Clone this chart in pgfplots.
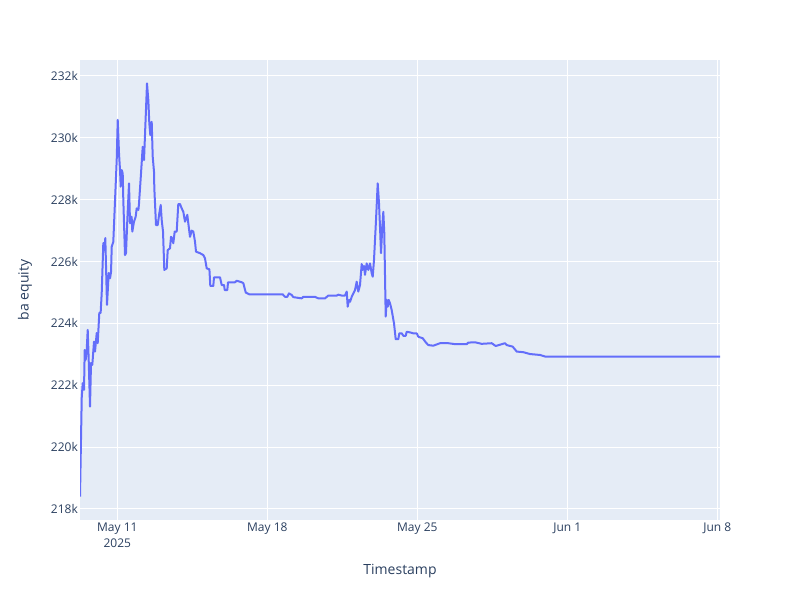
\documentclass[border=0pt]{standalone}
\usepackage{pgfplots}
\pgfplotsset{compat=1.18}
\usepackage{fontspec}
\setmainfont{Open Sans}
\definecolor{plotbg}{HTML}{E5ECF6}
\definecolor{trace}{HTML}{636EFA}
\definecolor{fontc}{HTML}{2A3F5F}

% x: days after 11 May 2025, y: equity in thousands
\pgfplotstableread{
d v
-1.741 218.40
-1.660 221.60
-1.615 222.07
-1.554 221.85
-1.521 223.14
-1.475 222.82
-1.428 223.14
-1.381 223.79
-1.335 222.82
-1.274 221.31
-1.227 222.72
-1.167 222.66
-1.087 223.41
-1.040 223.09
-0.961 223.69
-0.915 223.36
-0.840 224.34
-0.778 224.34
-0.728 224.98
-0.653 226.60
-0.607 226.37
-0.560 226.76
-0.481 224.60
-0.401 225.63
-0.339 225.46
-0.292 225.67
-0.261 226.48
-0.187 226.64
-0.093 228.20
-0.028 229.28
0.019 230.58
0.079 229.50
0.126 228.96
0.159 228.42
0.205 228.96
0.252 228.85
0.280 227.99
0.359 226.21
0.405 226.27
0.467 227.34
0.546 228.53
0.593 227.24
0.669 227.45
0.700 226.97
0.779 227.29
0.857 227.45
0.905 227.72
0.984 227.67
1.013 227.88
1.106 228.85
1.185 229.71
1.246 229.28
1.307 230.36
1.386 231.76
1.447 231.22
1.494 230.47
1.540 230.09
1.605 230.52
1.652 229.39
1.713 228.90
1.727 228.37
1.806 227.18
1.884 227.18
1.960 227.56
2.025 227.83
2.072 227.34
2.133 226.97
2.193 225.73
2.305 225.78
2.352 226.37
2.459 226.43
2.506 226.80
2.568 226.75
2.613 226.59
2.678 226.97
2.771 226.97
2.846 227.86
2.925 227.86
3.005 227.72
3.080 227.61
3.159 227.29
3.266 227.51
3.313 227.24
3.392 226.80
3.472 227.00
3.547 226.97
3.626 226.64
3.672 226.32
3.859 226.27
4.013 226.21
4.092 226.10
4.172 225.78
4.297 225.75
4.340 225.21
4.478 225.21
4.512 225.49
4.792 225.49
4.872 225.24
4.981 225.24
5.012 225.08
5.133 225.08
5.166 225.33
5.492 225.33
5.572 225.38
5.805 225.33
5.883 225.30
5.992 225.00
6.160 224.94
7.718 224.94
7.825 224.86
7.933 224.86
8.012 224.97
8.138 224.92
8.213 224.85
8.605 224.81
8.679 224.86
9.225 224.86
9.379 224.81
9.692 224.81
9.846 224.90
10.238 224.90
10.310 224.93
10.471 224.90
10.625 224.90
10.705 225.03
10.751 224.54
10.812 224.76
10.859 224.70
10.938 224.86
11.012 224.97
11.092 225.08
11.171 225.35
11.245 225.03
11.325 225.24
11.404 225.92
11.451 225.73
11.512 225.86
11.558 225.57
11.637 225.94
11.713 225.73
11.792 225.94
11.871 225.62
11.918 225.51
11.978 226.05
12.072 227.34
12.151 228.53
12.212 227.88
12.258 227.13
12.305 226.27
12.366 227.13
12.413 227.61
12.459 226.91
12.524 224.22
12.571 224.76
12.618 224.54
12.664 224.76
12.725 224.65
12.804 224.43
12.912 224.00
12.991 223.49
13.112 223.49
13.159 223.68
13.271 223.68
13.346 223.60
13.458 223.60
13.504 223.73
13.658 223.71
13.812 223.68
13.971 223.68
14.046 223.57
14.251 223.52
14.405 223.38
14.512 223.30
14.746 223.28
15.058 223.36
15.446 223.36
15.758 223.33
16.304 223.33
16.379 223.38
16.692 223.39
17.004 223.34
17.471 223.36
17.657 223.27
18.091 223.36
18.170 223.30
18.450 223.25
18.637 223.09
18.946 223.07
19.258 223.01
19.725 222.98
19.958 222.93
28.124 222.93
}\equity

\begin{document}
\begin{tikzpicture}
\path[use as bounding box] (0pt,0pt) rectangle (800pt,600pt);
\begin{axis}[
  at={(80pt,80pt)}, anchor=south west,
  scale only axis, width=640pt, height=460pt,
  xmin=-1.741, xmax=28.124,
  ymin=217.644, ymax=232.517,
  axis background/.style={fill=plotbg},
  axis line style={draw=none},
  major tick length=0pt,
  grid=major,
  major grid style={white, line width=1pt},
  xtick={0,7,14,21,28},
  xticklabels={{May 11\\2025},May 18,May 25,Jun 1,Jun 8},
  ytick={218,220,222,224,226,228,230,232},
  yticklabels={218k,220k,222k,224k,226k,228k,230k,232k},
  xticklabel style={font=\fontsize{12}{16}\selectfont, text=fontc,
    align=center, anchor=north, inner sep=0pt, yshift=-3pt},
  yticklabel style={font=\fontsize{12}{14}\selectfont, text=fontc,
    anchor=east, inner sep=0pt, xshift=-2pt},
  xlabel={Timestamp},
  ylabel={ba equity},
  xlabel style={at={(axis description cs:0.5,-0.111)}, anchor=center,
    font=\fontsize{14}{17}\selectfont, text=fontc},
  ylabel style={at={(axis description cs:-0.086,0.5)}, anchor=center,
    font=\fontsize{14}{17}\selectfont, text=fontc},
]
\addplot[trace, line width=2pt, line join=round, mark=none] table[x=d, y=v] {\equity};
\end{axis}
\end{tikzpicture}
\end{document}
